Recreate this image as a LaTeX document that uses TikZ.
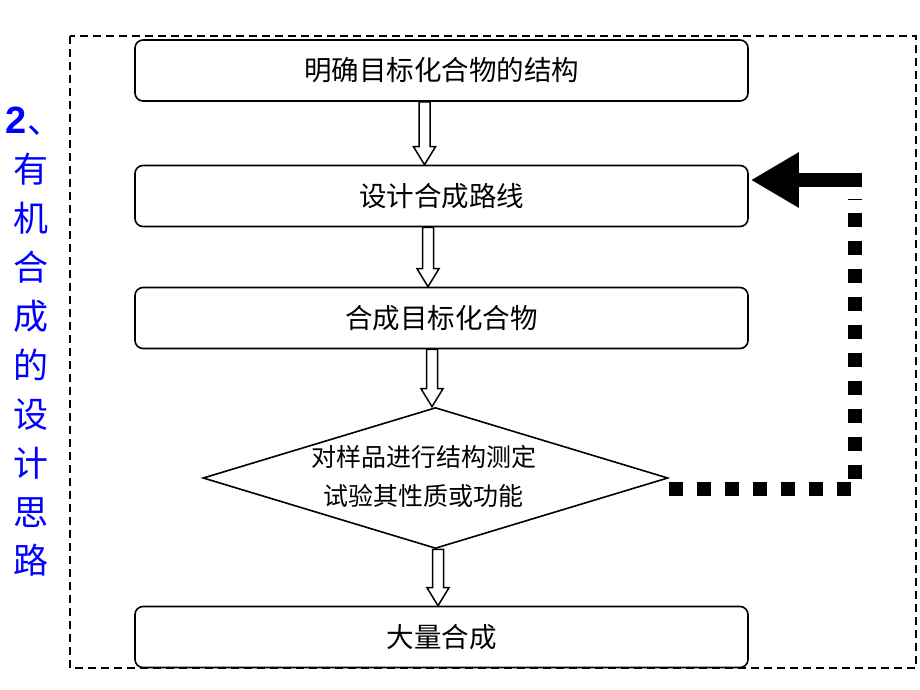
\documentclass[tikz,border=0pt]{standalone}
\usepackage{fontspec}
\setmainfont{Liberation Sans}
\newfontfamily\cjk{Noto Sans CJK SC}
\usetikzlibrary{arrows.meta,calc,shapes.geometric}
\newcommand\harrow[3]{%
  \draw[hollow] let \p1=(#2), \p2=(#3) in
    (#1pt-5.5pt,\y1) -- (#1pt+5.5pt,\y1) -- (#1pt+5.5pt,\y2+18pt) -- (#1pt+11pt,\y2+18pt)
    -- (#1pt,\y2) -- (#1pt-11pt,\y2+18pt) -- (#1pt-5.5pt,\y2+18pt) -- cycle;}
\begin{document}
\begin{tikzpicture}[x=1pt,y=-1pt,
  box/.style={draw, line width=1.6pt, rounded corners=8pt, minimum width=613pt,
    minimum height=61pt, inner sep=0pt, font=\cjk\fontsize{27.5}{32}\selectfont},
  dia/.style={draw, diamond, line width=1.6pt, minimum width=465pt, minimum height=141pt, inner sep=0pt},
  diatext/.style={align=center, font=\cjk\fontsize{25}{39}\selectfont},
  hollow/.style={draw, fill=white, line width=1.5pt, line join=miter},
  frame/.style={draw, line width=1.4pt, dash pattern=on 8pt off 5pt},
  dots/.style={draw, line width=14pt, line cap=butt, dash pattern=on 14pt off 14pt},
  bigarrow/.style={draw, line width=14pt, -{Triangle[length=48pt,width=52pt]}},
  sidetitle/.style={text=blue, align=center, font=\cjk\fontsize{35}{48.9}\selectfont}
]
\useasboundingbox (0,0) rectangle (920,690);
\fill[white] (0,0) rectangle (920,690);
\draw[frame] (70,36) rectangle (916,668);

\node[sidetitle] (title) at (31,342) {\hspace*{6pt}{\rmfamily\bfseries\fontsize{38}{48.9}\selectfont 2}、\\有\\机\\合\\成\\的\\设\\计\\思\\路};

\node[box] (b1) at (441.5,70.5) {明确目标化合物的结构};
\node[box] (b2) at (441.5,196) {设计合成路线};
\node[box] (b3) at (441.5,318) {合成目标化合物};
\node[dia] (d) at (435.5,478) {};
\node[diatext] (dt) at (423.5,476) {对样品进行结构测定\\试验其性质或功能};
\node[box] (b4) at (441.5,637) {大量合成};

\harrow{424.5}{b1.south}{b2.north}
\harrow{428}{b2.south}{b3.north}
\harrow{432}{b3.south}{d.north}
\harrow{438}{d.south}{b4.north}

\coordinate (cBot) at (855,489);
\coordinate (cTopDot) at (855,199);
\coordinate (cTop) at (862,180);
\draw[dots] (d.east |- cBot) -- (cBot) -- (cTopDot);
\draw[bigarrow] (cTop) -- ([xshift=2pt]b2.east |- cTop);
\end{tikzpicture}
\end{document}
